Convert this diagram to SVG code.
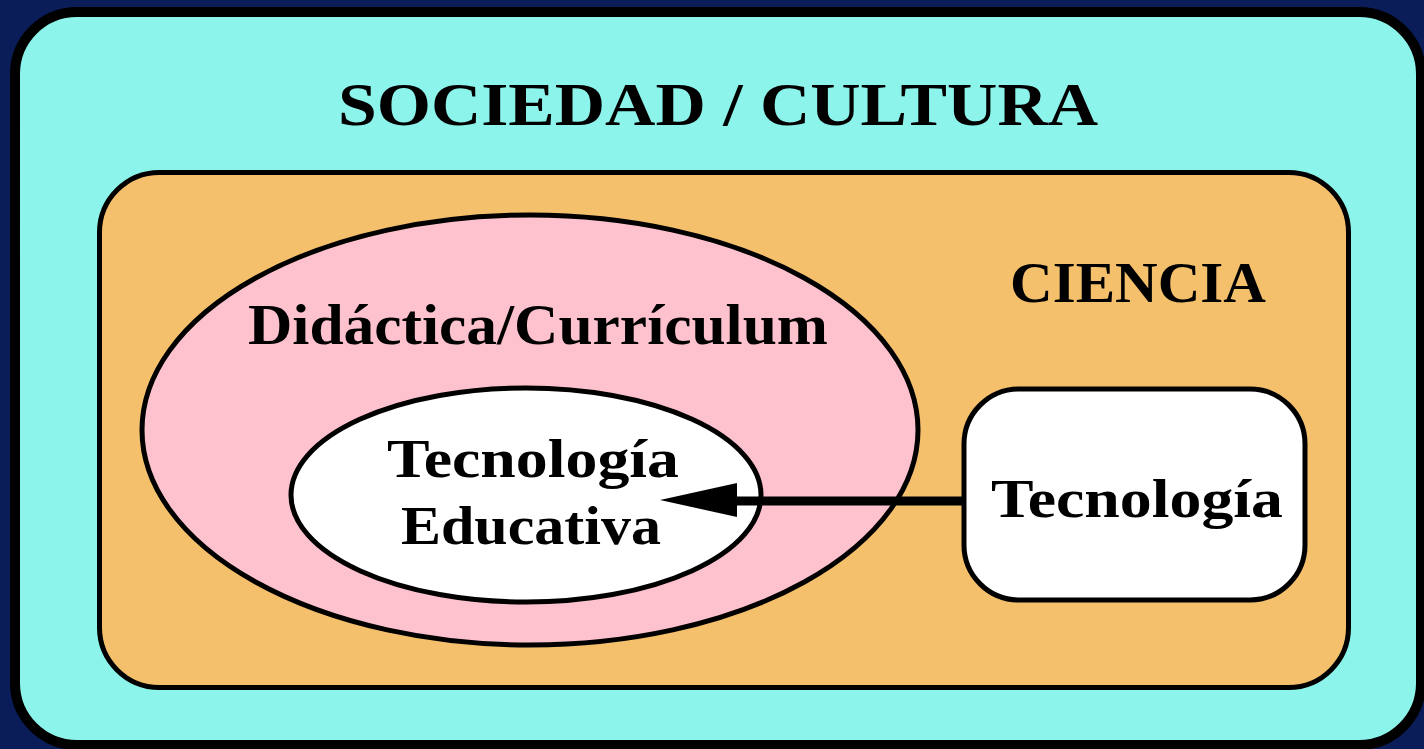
<svg xmlns="http://www.w3.org/2000/svg" width="1424" height="749" viewBox="0 0 1424 749">
<style>
.lbl{font-family:"Liberation Serif","DejaVu Serif",serif;font-weight:bold;fill:#000;}
.box{stroke:#000;}
</style>
<defs>
<marker id="ah" markerWidth="10" markerHeight="10" refX="0" refY="5" orient="auto" markerUnits="userSpaceOnUse" viewBox="0 0 10 10">
<path d="M0,5 L10,0 L10,10 Z" fill="#000"/>
</marker>
</defs>
<rect x="0" y="0" width="1424" height="749" fill="#0b1d58"/>
<g id="sociedad">
<rect class="box" x="15" y="12" width="1406" height="733" rx="62" ry="62" fill="#8df4ec" stroke-width="10"/>
<text class="lbl" x="338" y="125" font-size="62" textLength="760" lengthAdjust="spacingAndGlyphs">SOCIEDAD / CULTURA</text>
</g>
<g id="ciencia">
<rect class="box" x="99.5" y="172.5" width="1249" height="515" rx="60" ry="60" fill="#f4c06c" stroke-width="5"/>
<text class="lbl" x="1010" y="302" font-size="57" textLength="256" lengthAdjust="spacingAndGlyphs">CIENCIA</text>
</g>
<g id="didactica">
<ellipse class="box" cx="530" cy="430" rx="388" ry="215" fill="#fdc2cd" stroke-width="5"/>
<text class="lbl" x="248" y="344" font-size="57" textLength="580" lengthAdjust="spacingAndGlyphs">Didáctica/Currículum</text>
</g>
<g id="tecnologia_educativa">
<ellipse class="box" cx="526" cy="495" rx="235" ry="107" fill="#fff" stroke-width="5"/>
<text class="lbl" x="387" y="477" font-size="54" textLength="292" lengthAdjust="spacingAndGlyphs">Tecnología</text>
<text class="lbl" x="401" y="544" font-size="54" textLength="260" lengthAdjust="spacingAndGlyphs">Educativa</text>
</g>
<g id="tecnologia">
<rect class="box" x="964" y="389" width="341" height="211" rx="55" ry="55" fill="#fff" stroke-width="5"/>
<text class="lbl" x="991" y="517" font-size="54" textLength="292" lengthAdjust="spacingAndGlyphs">Tecnología</text>
</g>
<g id="connectors">
<line x1="964" y1="501" x2="737" y2="501" stroke="#000" stroke-width="9"/>
<path d="M660,500 L737,483 L737,517 Z" fill="#000"/>
</g>
</svg>
